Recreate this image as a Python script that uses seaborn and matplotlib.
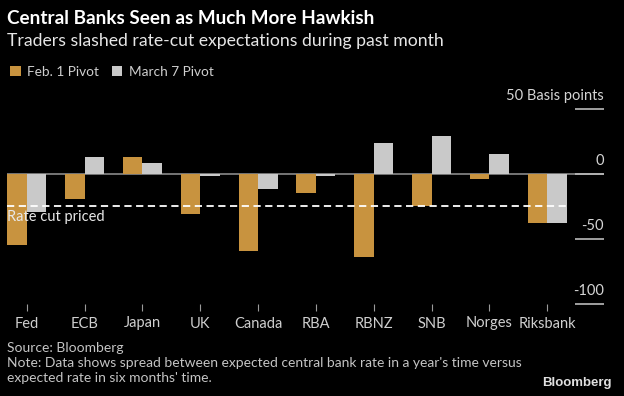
import matplotlib
matplotlib.use("Agg")
import matplotlib.pyplot as plt
import seaborn as sns
import pandas as pd

banks = ["Fed", "ECB", "Japan", "UK", "Canada", "RBA", "RBNZ", "SNB", "Norges", "Riksbank"]
feb1 = [-55, -19, 13, -31, -59, -15, -64, -25, -4, -38]
mar7 = [-29, 13, 8, -2, -12, -1.5, 24, 29, 15, -38]
series_names = ["Feb. 1 Pivot", "March 7 Pivot"]
yticks = [50, 0, -50, -100]
ytick_labels = ["50 Basis points", "0", "-50", "-100"]
rate_cut_level = -25

ORANGE = "#C8933F"
GREY = "#C9C9C9"
BG = "#000000"

df = pd.DataFrame({
    "bank": banks * 2,
    "value": feb1 + mar7,
    "series": [series_names[0]] * len(banks) + [series_names[1]] * len(banks),
})

sns.set_theme(style="dark")
plt.rcParams["font.family"] = ["Lato", "DejaVu Sans"]

fig = plt.figure(figsize=(6.24, 3.96), dpi=100, facecolor=BG)
ax = fig.add_axes([7 / 624, (396 - 304) / 396, 597 / 624, (304 - 108.7) / 396])
ax.set_facecolor(BG)

sns.barplot(data=df, x="bank", y="value", hue="series", order=banks,
            hue_order=series_names, palette=[ORANGE, GREY], width=0.675,
            saturation=1, ax=ax, edgecolor="none", linewidth=0, legend=True)

ax.set_xlim(-0.34, 9.98)
ax.set_ylim(-100, 50)
for s in ax.spines.values():
    s.set_visible(False)
ax.grid(False)
ax.set_xlabel("")
ax.set_ylabel("")
ax.set_yticks([])
ax.tick_params(axis="x", bottom=True, direction="out", length=5, width=0.8,
               color="#9A9A9A", labelcolor="#CFCFCF", labelsize=10.5, pad=4)

# zero line
ax.axhline(0, color="#8A8A8A", lw=1.2, zorder=0.5)
# short right-side gridlines and labels
for v, lab in zip(yticks, ytick_labels):
    ax.hlines(v, 9.48, 9.98, color="#BBBBBB", lw=1.2, clip_on=False)
    ax.text(9.98, v + 10, lab, ha="right", va="center", color="#D5D5D5",
            fontsize=10.5)

# rate cut priced line
ax.hlines(rate_cut_level, -0.3375, 9.3375, color="#FFFFFF", lw=1.3,
          linestyles=(0, (4, 2.5)), zorder=3)
ax.text(-0.34, rate_cut_level - 8, "Rate cut priced", ha="left", va="center",
        color="#E8E8E8", fontsize=10.5, zorder=4)

# legend
h, l = ax.get_legend_handles_labels()
ax.get_legend().remove()
fig.legend(h, l, loc="center left", bbox_to_anchor=(5 / 624, 1 - 72 / 396),
           ncol=2, frameon=False, handlelength=0.75, handleheight=0.75,
           handletextpad=0.5, columnspacing=0.9, fontsize=9.8,
           labelcolor="#CFCFCF", borderaxespad=0)

# titles
fig.text(7 / 624, 1 - 19 / 396, "Central Banks Seen as Much More Hawkish",
         ha="left", va="center", color="#FFFFFF", fontsize=13.6, fontweight="bold")
fig.text(7 / 624, 1 - 41 / 396, "Traders slashed rate-cut expectations during past month",
         ha="left", va="center", color="#E6E6E6", fontsize=12.7)

# footer
fig.text(7 / 624, 1 - 348 / 396, "Source: Bloomberg", ha="left", va="center",
         color="#C4C4C4", fontsize=10)
fig.text(7 / 624, 1 - 363 / 396,
         "Note: Data shows spread between expected central bank rate in a year's time versus",
         ha="left", va="center", color="#C4C4C4", fontsize=10)
fig.text(7 / 624, 1 - 378 / 396, "expected rate in six months' time.", ha="left",
         va="center", color="#C4C4C4", fontsize=10)
fig.text(612 / 624, 1 - 383 / 396, "Bloomberg", ha="right", va="center",
         color="#E0E0E0", fontsize=9.5, fontweight="bold",
         family=["Liberation Sans", "DejaVu Sans"])

fig.savefig("out.png", dpi=100, facecolor=BG)
